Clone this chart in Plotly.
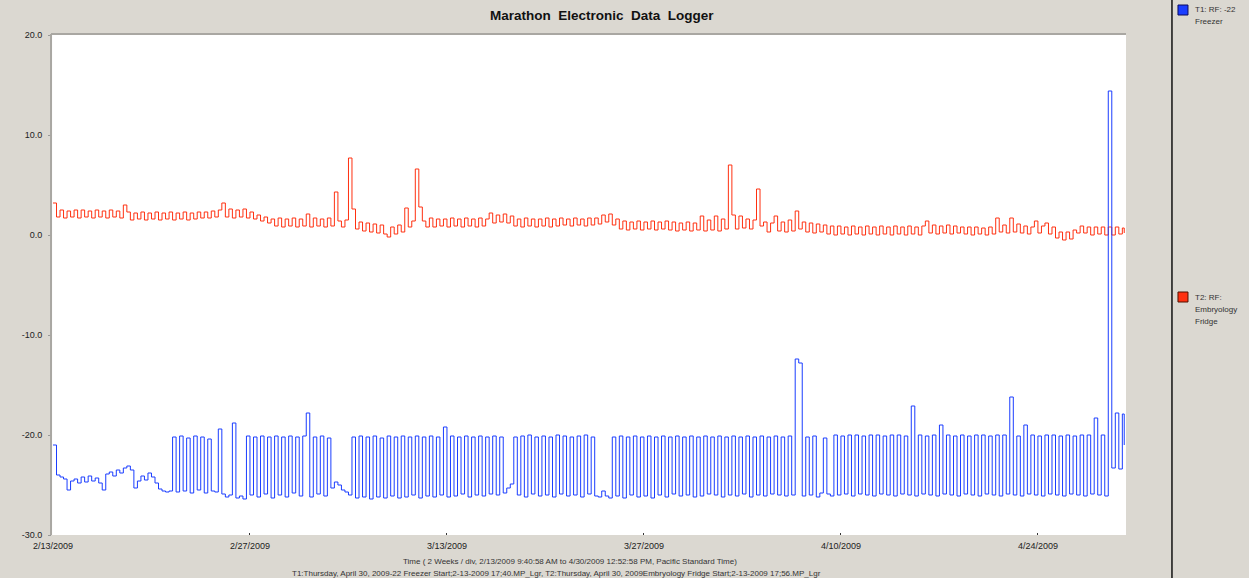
import datetime as dt
import plotly.graph_objects as go

# ---------------- data ----------------
start_time = "2009-02-13 09:40:58"
end_time = "2009-04-30 12:52:58"
step_hours = 6  # one reading per 6 hours in this sketch

tick_labels = ["2/13/2009", "2/27/2009", "3/13/2009", "3/27/2009", "4/10/2009", "4/24/2009"]
y_ticks = [-30, -20, -10, 0, 10, 20]
y_tick_labels = ["-30.0", "-20.0", "-10.0", "0.0", "10.0", "20.0"]

series_names = ["T1: RF: -22 Freezer", "T2: RF: Embryology Fridge"]

t1_freezer = [
    -21.0, -24.0, -24.2, -24.4, -25.5, -24.6, -24.4, -24.8, -24.2, -24.7,
    -24.1, -24.6, -24.3, -24.8, -25.5, -23.9, -23.7, -24.1, -23.5, -23.8,
    -23.3, -23.1, -23.5, -25.3, -24.6, -24.1, -24.5, -23.8, -24.2, -24.8,
    -25.4, -25.6, -25.7, -25.6, -20.2, -25.7, -20.1, -25.6, -20.3, -25.8,
    -20.1, -25.5, -20.2, -25.8, -20.4, -25.6, -25.7, -19.4, -25.9, -26.2,
    -26.0, -18.8, -26.3, -26.1, -26.4, -20.1, -26.0, -20.2, -26.2, -20.1,
    -25.9, -20.2, -26.3, -20.1, -26.0, -20.2, -26.2, -20.1, -25.8, -20.2,
    -26.1, -20.1, -17.8, -26.2, -20.2, -25.9, -20.1, -26.1, -20.3, -25.3,
    -24.7, -25.0, -25.5, -25.7, -26.0, -20.2, -26.3, -20.1, -26.2, -20.2,
    -26.4, -20.1, -26.2, -20.3, -26.3, -20.1, -26.1, -20.2, -26.3, -20.1,
    -26.2, -20.2, -26.0, -20.1, -26.3, -20.2, -26.1, -20.1, -26.2, -20.2,
    -26.0, -19.2, -26.2, -20.1, -26.1, -20.2, -25.9, -20.1, -26.2, -20.2,
    -26.0, -20.1, -26.1, -20.2, -25.9, -20.1, -26.0, -20.2, -25.8, -25.3,
    -24.9, -20.2, -26.0, -20.1, -26.2, -20.0, -25.9, -20.2, -26.1, -20.1,
    -26.0, -20.2, -26.2, -20.0, -25.9, -20.1, -26.1, -20.2, -26.0, -20.1,
    -26.2, -20.0, -25.9, -20.2, -26.1, -26.2, -25.6, -26.1, -26.3, -20.2,
    -26.1, -20.1, -26.3, -20.2, -26.0, -20.1, -26.2, -20.2, -26.1, -20.1,
    -26.3, -20.2, -26.0, -20.1, -26.2, -20.2, -25.9, -20.1, -26.1, -20.2,
    -26.0, -20.1, -26.2, -20.2, -26.1, -20.1, -25.9, -20.2, -26.0, -20.1,
    -26.2, -20.2, -26.0, -20.1, -26.1, -20.2, -25.9, -20.1, -26.2, -20.2,
    -26.0, -20.1, -26.1, -20.2, -25.9, -20.1, -26.0, -20.2, -26.1, -20.1,
    -26.0, -12.4, -12.8, -26.1, -20.2, -26.0, -20.1, -26.2, -25.8, -20.3,
    -25.9, -26.1, -20.0, -26.0, -20.1, -25.9, -20.0, -26.1, -20.0, -25.9,
    -20.1, -26.0, -20.0, -26.1, -20.0, -25.9, -20.1, -26.0, -20.0, -26.1,
    -20.0, -25.9, -20.1, -26.0, -17.1, -26.1, -20.0, -25.9, -20.1, -26.0,
    -20.0, -26.1, -19.0, -25.9, -20.0, -26.0, -20.1, -26.1, -20.0, -25.9,
    -20.1, -26.0, -20.0, -26.1, -20.0, -25.9, -20.1, -26.0, -20.0, -26.1,
    -20.0, -25.9, -16.2, -26.0, -20.1, -26.1, -19.0, -25.9, -20.0, -26.0,
    -20.1, -26.1, -20.0, -25.9, -20.0, -26.0, -20.1, -26.1, -20.0, -25.9,
    -20.1, -26.0, -20.0, -26.1, -20.0, -25.9, -18.3, -26.0, -20.0, -26.1,
    14.4, -23.3, -17.8, -23.4, -17.9,
]
t1_last = -21.0

t2_fridge = [
    3.2, 1.8, 2.5, 1.7, 2.4, 1.8, 2.5, 1.7, 2.5, 1.8,
    2.4, 1.7, 2.5, 1.8, 2.4, 1.7, 2.5, 1.8, 2.4, 1.7,
    3.0, 2.3, 1.5, 2.2, 1.6, 2.3, 1.5, 2.2, 1.6, 2.3,
    1.5, 2.2, 1.6, 2.3, 1.5, 2.2, 1.6, 2.3, 1.5, 2.2,
    1.6, 2.3, 1.7, 2.3, 1.7, 2.4, 1.8, 2.5, 3.2, 1.8,
    2.6, 1.7, 2.5, 1.8, 2.6, 1.7, 2.3, 1.6, 2.0, 1.4,
    1.8, 1.2, 1.6, 0.9, 1.7, 0.8, 1.6, 0.9, 1.7, 0.8,
    1.6, 0.9, 2.1, 0.8, 1.7, 0.9, 1.6, 0.8, 1.7, 0.9,
    4.3, 1.4, 0.8, 1.5, 7.7, 2.6, 0.6, 1.3, 0.4, 1.2,
    0.3, 1.1, 0.2, 1.0, 0.1, -0.2, 0.8, 0.1, 1.0, 0.3,
    2.7, 0.8, 1.4, 6.6, 2.8, 1.4, 0.8, 1.7, 0.8, 1.6,
    0.9, 1.6, 0.8, 1.7, 0.9, 1.6, 0.8, 1.7, 0.9, 1.6,
    0.8, 1.7, 0.9, 1.6, 2.2, 1.2, 2.0, 1.3, 2.1, 1.2,
    1.9, 0.9, 1.6, 0.8, 1.7, 0.9, 1.6, 0.8, 1.6, 0.9,
    1.7, 0.8, 1.6, 0.9, 1.7, 1.0, 1.6, 0.9, 1.7, 1.0,
    1.6, 0.9, 1.7, 1.0, 1.7, 1.1, 2.0, 1.3, 2.1, 1.0,
    1.6, 0.6, 1.4, 0.5, 1.3, 0.6, 1.4, 0.5, 1.3, 0.6,
    1.4, 0.5, 1.3, 0.6, 1.4, 0.5, 1.3, 0.4, 1.2, 0.5,
    1.3, 0.4, 1.2, 0.5, 1.9, 0.4, 1.5, 0.5, 1.9, 0.4,
    1.6, 0.6, 7.0, 2.0, 0.6, 1.9, 0.7, 1.6, 0.6, 1.5,
    4.6, 0.9, 1.3, 0.3, 1.2, 1.9, 0.4, 1.3, 0.3, 1.5,
    0.4, 2.4, 0.6, 1.3, 0.3, 1.2, 0.2, 1.1, 0.3, 1.0,
    0.1, 0.9, 0.0, 0.9, 0.1, 0.8, 0.0, 0.9, 0.1, 0.8,
    0.0, 0.9, 0.1, 0.8, 0.0, 0.9, 0.1, 0.8, 0.0, 0.9,
    0.1, 0.8, 0.0, 0.9, 0.1, 0.8, 0.0, 0.9, 1.4, 0.2,
    1.0, 0.1, 0.9, 0.2, 1.0, 0.1, 0.9, 0.2, 0.8, 0.1,
    0.8, 0.0, 0.8, 0.1, 0.7, 0.0, 0.8, 0.1, 1.7, 0.3,
    1.0, 0.2, 1.7, 0.3, 1.1, 0.2, 0.9, 0.1, 0.8, 1.4,
    0.2, 0.9, 1.2, 0.1, 0.8, -0.3, 0.3, -0.5, 0.3, -0.4,
    0.5, 0.2, 0.9, 0.2, 0.8, 0.0, 0.8, 0.1, 0.8, 0.0,
    0.8, 0.0, 0.8, 0.1, 0.7,
]
t2_last = 0.2

# ---------------- build ----------------
t0 = dt.datetime.strptime(start_time, "%Y-%m-%d %H:%M:%S")
t_end = dt.datetime.strptime(end_time, "%Y-%m-%d %H:%M:%S")


def times_for(values):
    return [t0 + dt.timedelta(hours=step_hours * k) for k in range(len(values))] + [t_end]


BLUE = "#1a3dff"
RED = "#ff3010"
BG = "#dbd8d1"
FONT = "Liberation Sans, Arial, sans-serif"

fig = go.Figure()
fig.add_trace(go.Scatter(x=times_for(t2_fridge), y=t2_fridge + [t2_last], mode="lines",
                         line=dict(color=RED, width=1, shape="hv"), name=series_names[1]))
fig.add_trace(go.Scatter(x=times_for(t1_freezer), y=t1_freezer + [t1_last], mode="lines",
                         line=dict(color=BLUE, width=1, shape="hv"), name=series_names[0]))

tick_vals = [t0 + dt.timedelta(days=14 * k) for k in range(len(tick_labels))]

fig.update_layout(
    width=1249, height=578,
    margin=dict(l=52, r=123, t=35, b=43),
    paper_bgcolor=BG, plot_bgcolor="white",
    showlegend=False,
    font=dict(family=FONT, size=9, color="#222"),
    xaxis=dict(
        range=[t0 - dt.timedelta(days=0.07), t0 + dt.timedelta(days=76.26)],
        tickvals=tick_vals, ticktext=tick_labels,
        ticks="inside", ticklen=2, tickcolor="#333",
        showgrid=False, zeroline=False, showline=False,
        tickfont=dict(size=9, color="#222"),
        ticklabelstandoff=4,
    ),
    yaxis=dict(
        range=[-30, 20], tickvals=y_ticks, ticktext=y_tick_labels,
        ticks="outside", ticklen=3, tickcolor="#999",
        showgrid=False, zeroline=False, showline=False,
        tickfont=dict(size=9, color="#222"),
        ticklabelstandoff=4,
    ),
)

shapes = [
    # plot border shadow (left and top)
    dict(type="line", xref="paper", yref="paper", x0=-0.0009, x1=-0.0009, y0=0, y1=1.002,
         line=dict(color="#a9a7a2", width=2)),
    dict(type="line", xref="paper", yref="paper", x0=-0.0009, x1=1, y0=1.002, y1=1.002,
         line=dict(color="#a9a7a2", width=2)),
    # legend panel separator
    dict(type="line", xref="paper", yref="paper", x0=1.0428, x1=1.0428, y0=-0.09, y1=1.08,
         line=dict(color="#111", width=1.5)),
    # legend swatches
    dict(type="rect", xref="paper", yref="paper", x0=1.0484, x1=1.0577, y0=1.04, y1=1.06,
         fillcolor=BLUE, line=dict(color="#0a0a60", width=1)),
    dict(type="rect", xref="paper", yref="paper", x0=1.0484, x1=1.0577, y0=0.466, y1=0.486,
         fillcolor=RED, line=dict(color="#501000", width=1)),
]
fig.update_layout(shapes=shapes)

ann = []


def note(text, x, y, size=8, xanchor="left", bold=False, color="#333"):
    ann.append(dict(text=("<b>%s</b>" % text) if bold else text, x=x, y=y,
                    xref="paper", yref="paper", xanchor=xanchor, yanchor="middle",
                    showarrow=False, font=dict(family=FONT, size=size, color=color)))


sp = "\u00a0\u00a0"
note(sp.join(["Marathon", "Electronic", "Data", "Logger"]), 0.512, 1.038, size=13.5,
     xanchor="center", bold=True, color="#111")
note("T1: RF: -22", 1.0624, 1.05)
note("Freezer", 1.0624, 1.026)
note("T2: RF:", 1.0624, 0.476)
note("Embryology", 1.0624, 0.452)
note("Fridge", 1.0624, 0.428)
note("Time ( 2 Weeks / div, 2/13/2009 9:40:58 AM to 4/30/2009 12:52:58 PM, Pacific Standard Time)",
     0.482, -0.052, xanchor="center")
note("T1:Thursday, April 30, 2009-22 Freezer Start;2-13-2009 17;40.MP_Lgr, "
     "T2:Thursday, April 30, 2009Embryology Fridge Start;2-13-2009 17;56.MP_Lgr",
     0.470, -0.076, xanchor="center")
fig.update_layout(annotations=ann)

page_js = ("document.body.style.margin='0';document.body.style.overflow='hidden';"
           "document.body.style.background='%s';" % BG)
fig.write_html("out.html", post_script=page_js, config={"displayModeBar": False})
